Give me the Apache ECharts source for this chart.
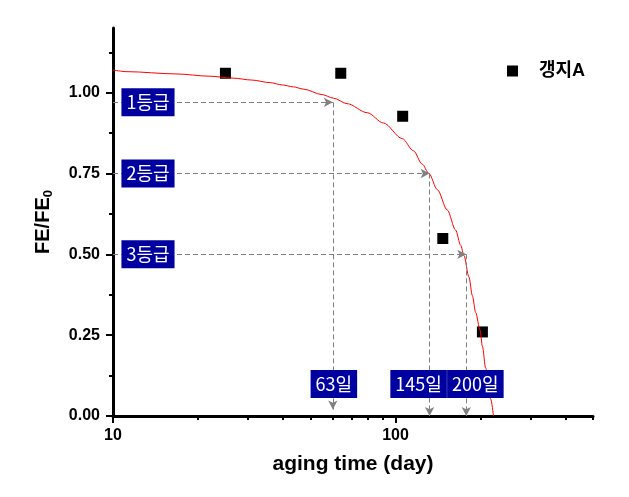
<!DOCTYPE html>
<html>
<head>
<meta charset="utf-8">
<script src="https://cdn.jsdelivr.net/npm/echarts@6/dist/echarts.min.js"></script>
<style>html,body{margin:0;padding:0;background:#fff}#c{width:629px;height:497px}</style>
</head>
<body>
<div id="c"></div>
<script>
// ---- data ----
const seriesName = '갱지A';
const pointDays = [25, 64, 106, 147, 203];
const pointFE = [1.06, 1.06, 0.927, 0.549, 0.26];
const curveDays = [10, 11.2, 16.7, 21.9, 26.6, 31.0, 36.0, 39.7, 43.5, 47.2, 55.0, 60.3, 67.4, 79.4, 90.7, 105.6, 115.8, 124.3, 131.3, 140.6, 152.5, 163.2, 170.1, 174.7, 181.9, 187.1, 192.2, 199.1, 203.0, 208.5, 217.3, 222.1];
const curveFE = [1.070, 1.065, 1.058, 1.051, 1.045, 1.039, 1.031, 1.024, 1.018, 1.011, 0.994, 0.983, 0.966, 0.938, 0.906, 0.858, 0.820, 0.779, 0.750, 0.700, 0.637, 0.575, 0.528, 0.496, 0.430, 0.372, 0.320, 0.266, 0.216, 0.148, 0.052, 0.0];
const gradeLabels = ['1등급', '2등급', '3등급'];
const gradeFE = [0.97, 0.75, 0.50];
const gradeDays = [60, 132, 178];
const gradeArrowEnd = [0.02, 0, 0];
const dayLabels = ['63일', '145일', '200일'];
const gradeLabelDay = 13.3;
const dayLabelDays = [60.5, 120.7, 191.7];
const dayLabelFE = 0.099;
const xMajorTicks = [10, 100];
const xMinorTicks = [20, 30, 40, 50, 60, 70, 80, 90, 200, 300, 400, 500];
const yMajorTicks = [0, 0.25, 0.5, 0.75, 1.0];
const yMinorTicks = [0.125, 0.375, 0.625, 0.875, 1.125];
const xName = 'aging time (day)';

// ---- chart ----
const chart = echarts.init(document.getElementById('c'));
const boldFont = '"Liberation Sans", Arial, sans-serif';
const boxLabel = {
  show: true, position: 'inside', color: '#fff', fontSize: 18, opacity: 1,
  fontFamily: '"Noto Sans CJK KR", sans-serif', backgroundColor: '#0000a0',
  padding: [5, 5, 5, 5], lineHeight: 18
};
const markLines = [];
gradeFE.forEach((fe, i) => {
  markLines.push([{ coord: [10, fe] }, { coord: [gradeDays[i], fe] }]);
  markLines.push([{ coord: [gradeDays[i], fe] }, { coord: [gradeDays[i], gradeArrowEnd[i]] }]);
});
const labelData = [];
gradeLabels.forEach((t, i) => labelData.push({ value: [gradeLabelDay, gradeFE[i]], name: t }));
dayLabels.forEach((t, i) => labelData.push({ value: [dayLabelDays[i], dayLabelFE], name: t }));

chart.setOption({
  animation: false,
  grid: { left: 113, right: 36, top: 28, bottom: 81 },
  legend: {
    data: [seriesName], left: 502, top: 57, itemWidth: 11, itemHeight: 11,
    textStyle: { fontSize: 18, fontWeight: 'bold', color: '#000', fontFamily: boldFont + ', "Noto Sans CJK KR"', padding: [0, 0, 0, 16] }
  },
  xAxis: [{
    type: 'log', min: 10, max: 500, logBase: 10,
    name: xName, nameLocation: 'middle', nameGap: 38,
    nameTextStyle: { fontSize: 21, fontWeight: 'bold', color: '#000', fontFamily: boldFont },
    axisLine: { lineStyle: { color: '#000', width: 3 } },
    axisTick: { customValues: xMajorTicks, length: 7, lineStyle: { color: '#000', width: 2 } },
    axisLabel: { customValues: xMajorTicks, margin: 12, fontSize: 16, fontWeight: 'bold', color: '#000', fontFamily: boldFont },
    splitLine: { show: false }, minorTick: { show: false }
  }, {
    type: 'log', min: 10, max: 500, logBase: 10, position: 'bottom',
    axisLine: { show: false },
    axisTick: { customValues: xMinorTicks, length: 4, lineStyle: { color: '#000', width: 2 } },
    axisLabel: { show: false }, splitLine: { show: false }
  }],
  yAxis: [{
    type: 'value', min: 0, max: 1.2, position: 'left',
    name: 'FE/FE{s|0}', nameLocation: 'middle', nameGap: 58,
    nameTextStyle: {
      fontSize: 20, fontWeight: 'bold', color: '#000', fontFamily: boldFont,
      rich: { s: { fontSize: 13, fontWeight: 'bold', fontFamily: boldFont, color: '#000', padding: [10, 0, 0, 0] } }
    },
    axisLine: { show: true, lineStyle: { color: '#000', width: 3 } },
    axisTick: { show: true, customValues: yMajorTicks, length: 7, lineStyle: { color: '#000', width: 2 } },
    axisLabel: { customValues: yMajorTicks, margin: 13, fontSize: 16, fontWeight: 'bold', color: '#000', fontFamily: boldFont,
      formatter: v => v.toFixed(2) },
    splitLine: { show: false }
  }, {
    type: 'value', min: 0, max: 1.2, position: 'left',
    axisLine: { show: false },
    axisTick: { show: true, customValues: yMinorTicks, length: 4, lineStyle: { color: '#000', width: 2 } },
    axisLabel: { show: false }, splitLine: { show: false }
  }],
  series: [{
    name: seriesName, type: 'scatter', symbol: 'rect', symbolSize: 11,
    itemStyle: { color: '#000', opacity: 1 }, z: 2,
    data: pointDays.map((d, i) => [d, pointFE[i]])
  }, {
    name: 'fit', type: 'line', showSymbol: false, symbol: 'none', z: 3,
    smooth: 0.3, smoothMonotone: 'x',
    lineStyle: { color: '#ff0000', width: 1 },
    data: curveDays.map((d, i) => [d, curveFE[i]]),
    markLine: {
      silent: true, symbol: ['none', 'arrow'], symbolSize: [7, 9],
      label: { show: false },
      lineStyle: { color: '#808080', width: 1, type: [5, 3] },
      data: markLines
    }
  }, {
    name: 'labels', type: 'scatter', symbolSize: 0, z: 5, silent: true,
    itemStyle: { opacity: 1 },
    data: labelData,
    label: Object.assign({}, boxLabel, { formatter: p => p.name })
  }]
});
</script>
</body>
</html>
